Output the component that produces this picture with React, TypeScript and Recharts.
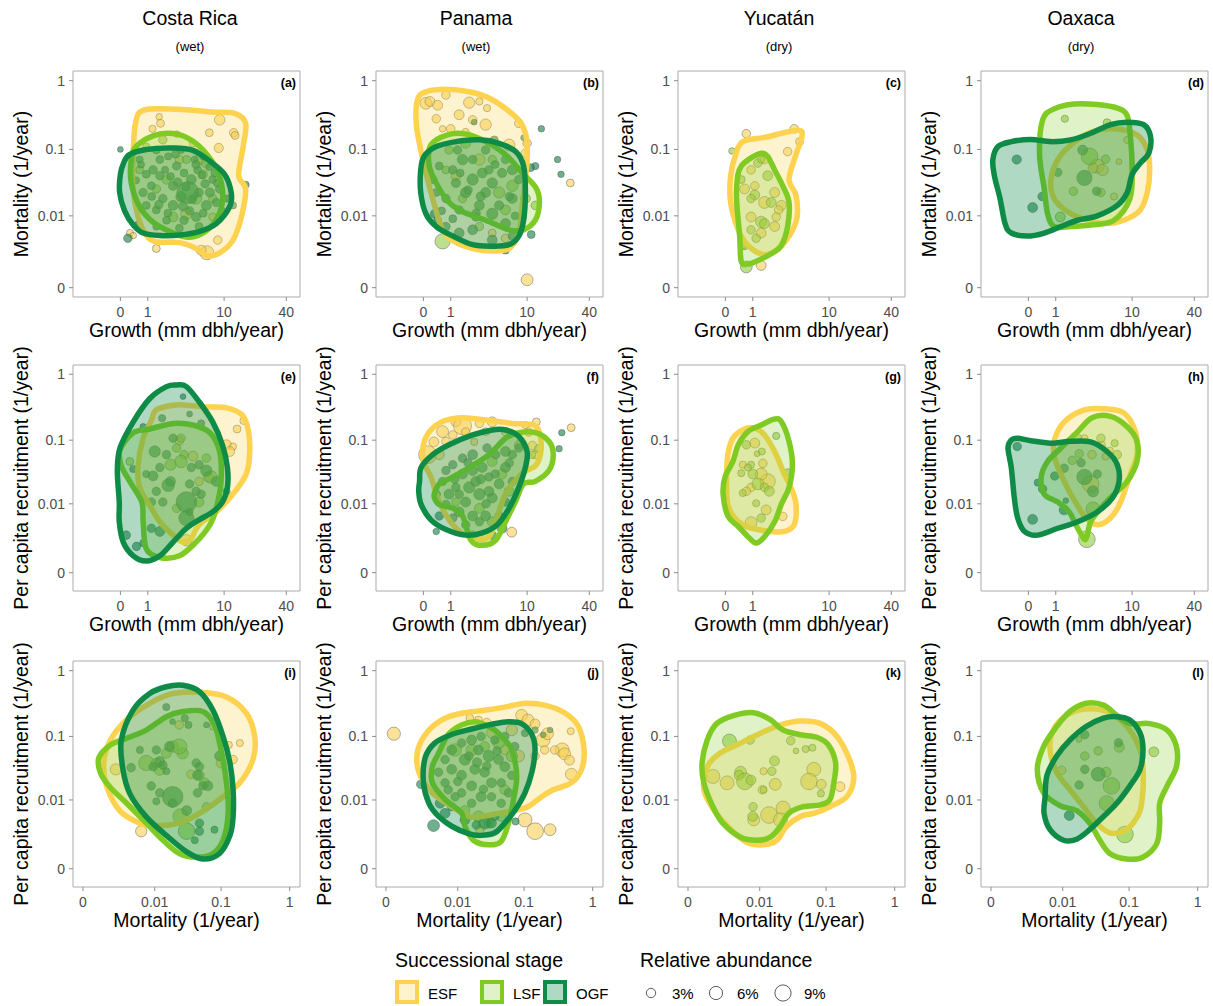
import React from 'react';
import { ScatterChart, Scatter, XAxis, YAxis, ReferenceArea, Label } from 'recharts';

type Stage = 'ESF' | 'LSF' | 'OGF';
type Obs = [number, number, number]; // x value, y value, relative abundance (%)
type Vertex = [number, number];

// ---- categories & tick labels ----
const growthTicks = [0, 1, 10, 40];
const rateTicks = [0, 0.01, 0.1, 1];
const siteNames = ['Costa Rica', 'Panama', 'Yucatán', 'Oaxaca'];
const siteClimate = ['(wet)', '(wet)', '(dry)', '(dry)'];
const stageNames: Stage[] = ['ESF', 'LSF', 'OGF'];
const abundanceLegend = [3, 6, 9];

// ---- (a) Costa Rica: growth (mm/yr) vs mortality (1/yr) ----
const aEsf: Obs[] = [
  [1.62, 0.3, 0.77], [1.7, 0.24, 1.27], [1.24, 0.2, 1.0], [2.9, 0.168, 0.77], [9.0, 0.27, 2.6],
  [12.5, 0.175, 1.56], [12.9, 0.16, 1.27], [8.8, 0.105, 1.9], [7.0, 0.175, 1.27], [4.6, 0.123, 1.0],
  [3.15, 0.071, 1.56], [5.4, 0.071, 2.25], [8.6, 0.0039, 1.56], [6.6, 0.0022, 5.1], [5.7, 0.0025, 2.25],
  [1.45, 0.0027, 1.27], [0.29, 0.0052, 1.0], [0.4, 0.0047, 0.77], [7.6, 0.0096, 1.27], [11.4, 0.0186, 1.27],
  [3.85, 0.0108, 3.1],
];
const aLsf: Obs[] = [
  [1.85, 0.138, 1.56], [0.93, 0.11, 1.0], [6.5, 0.063, 2.25], [6.0, 0.043, 1.56], [5.0, 0.0186, 3.1],
  [1.45, 0.026, 1.56], [0.64, 0.05, 1.27], [2.6, 0.0096, 2.25], [7.6, 0.0186, 1.56], [3.85, 0.071, 1.27],
  [2.1, 0.036, 1.9],
];
const aOgf: Obs[] = [
  [0, 0.1, 0.56], [16.4, 0.03, 1.0], [0.22, 0.0042, 1.56], [0.58, 0.007, 1.56], [0.79, 0.023, 1.56],
  [0.93, 0.043, 1.27], [1.27, 0.05, 1.56], [1.66, 0.071, 1.27], [2.22, 0.079, 1.0], [2.9, 0.057, 1.56],
  [3.6, 0.045, 1.27], [4.4, 0.036, 2.25], [5.2, 0.05, 1.27], [6.3, 0.031, 1.56], [7.6, 0.036, 1.27],
  [9.0, 0.026, 1.56], [8.3, 0.0162, 1.56], [6.5, 0.0146, 2.25], [5.0, 0.0096, 1.9], [3.6, 0.0085, 1.56],
  [2.6, 0.0146, 2.25], [1.85, 0.0186, 1.56], [1.45, 0.0124, 1.27], [2.1, 0.0085, 1.27], [3.3, 0.0198, 2.6],
  [4.0, 0.023, 14], [2.6, 0.029, 1.9], [1.66, 0.041, 1.56], [1.18, 0.029, 1.27], [0.93, 0.0146, 1.27],
  [5.4, 0.023, 1.56], [7.1, 0.023, 1.9], [4.8, 0.071, 1.0], [6.0, 0.079, 1.0], [3.3, 0.098, 1.0],
  [1.45, 0.098, 1.27], [0.64, 0.071, 1.0], [10.6, 0.0186, 1.0], [12.3, 0.0146, 1.0], [1.45, 0.0067, 1.0],
  [3.15, 0.0063, 1.27], [5.4, 0.0067, 1.27], [2.0, 0.05, 1.0], [2.4, 0.04, 1.27], [3.0, 0.033, 1.56],
  [3.8, 0.028, 1.27], [4.5, 0.018, 1.56], [5.8, 0.042, 1.27], [7.0, 0.055, 1.0], [8.0, 0.045, 1.27],
  [1.2, 0.02, 1.27], [1.6, 0.015, 1.56], [2.2, 0.011, 1.27], [4.2, 0.012, 1.56], [6.0, 0.011, 1.27],
  [9.5, 0.012, 1.0], [0.5, 0.035, 1.0], [0.7, 0.06, 1.0], [2.8, 0.085, 1.27], [5.0, 0.06, 1.56],
  [3.5, 0.014, 1.9], [8.5, 0.032, 1.27],
];
const aEsfContour: Vertex[] = [
  [0.81, 0.375], [2.9, 0.385], [7.6, 0.35], [12.8, 0.335], [16.4, 0.24], [15.5, 0.11], [14.0, 0.041],
  [16.4, 0.026], [14.9, 0.0096], [12.3, 0.0039], [9.0, 0.0022], [6.6, 0.0019], [5.0, 0.0027], [3.15, 0.0035],
  [1.45, 0.0036], [0.93, 0.0048], [0.58, 0.0096], [0.38, 0.029], [0.4, 0.087], [0.48, 0.24],
];
const aLsfContour: Vertex[] = [
  [0.5, 0.11], [1.27, 0.158], [2.35, 0.172], [3.85, 0.15], [6.0, 0.098], [8.6, 0.047], [9.7, 0.02],
  [8.6, 0.0096], [6.3, 0.0055], [4.0, 0.0044], [2.35, 0.0055], [1.27, 0.0079], [0.64, 0.014], [0.33, 0.032],
  [0.33, 0.07],
];
const aOgfContour: Vertex[] = [
  [0.27, 0.084], [0.93, 0.1], [2.6, 0.105], [4.6, 0.097], [7.1, 0.067], [10.1, 0.043], [11.8, 0.023],
  [11.4, 0.014], [8.3, 0.0075], [5.4, 0.0055], [3.15, 0.0048], [1.66, 0.0047], [0.79, 0.0052], [0.4, 0.0071],
  [0.12, 0.012], [-0.02, 0.023], [0, 0.043], [0.09, 0.063],
];

// ---- (b) Panama: growth vs mortality ----
const bEsf: Obs[] = [
  [0.07, 0.47, 3.5], [0.19, 0.5, 2.25], [0.45, 0.44, 2.25], [0.78, 0.62, 1.56], [2.08, 0.48, 3.1],
  [2.88, 0.5, 1.0], [3.6, 0.4, 1.0], [0.4, 0.28, 1.56], [1.44, 0.32, 2.25], [2.33, 0.27, 1.56],
  [3.46, 0.23, 3.1], [1.0, 0.2, 1.56], [0.64, 0.2, 0.77], [1.84, 0.18, 1.0], [8.2, 0.24, 1.56],
  [6.45, 0.116, 3.5], [10.0, 0.123, 1.56], [9.6, 0.088, 1.56], [26.5, 0.032, 1.27], [10.0, 0.0003, 3.5],
  [5.9, 0.0042, 1.56], [4.16, 0.0052, 1.27], [1.26, 0.041, 2.25], [2.88, 0.071, 3.1],
];
const bLsf: Obs[] = [
  [0.64, 0.0037, 6.25], [0.92, 0.098, 1.56], [1.84, 0.123, 2.25], [4.16, 0.071, 1.56], [7.0, 0.029, 3.1],
  [9.6, 0.0186, 2.25], [5.9, 0.0124, 2.25], [2.88, 0.0067, 1.56], [1.64, 0.0186, 1.56], [0.78, 0.05, 1.27],
  [5.0, 0.023, 3.1], [12.1, 0.0146, 1.56],
];
const bOgf: Obs[] = [
  [13.9, 0.2, 0.77], [20.0, 0.071, 0.77], [21.6, 0.043, 0.77], [12.1, 0.057, 1.0], [10.8, 0.054, 1.27],
  [11.0, 0.0049, 1.27], [5.9, 0.0025, 1.27], [9.2, 0.148, 0.56], [2.45, 0.25, 0.56], [4.4, 0.138, 1.27],
  [3.46, 0.098, 1.56], [5.9, 0.071, 1.56], [7.0, 0.05, 2.25], [8.2, 0.036, 1.56], [1.64, 0.071, 2.6],
  [1.1, 0.05, 1.56], [0.51, 0.057, 1.27], [0.28, 0.036, 1.56], [0.4, 0.023, 1.27], [0.34, 0.0108, 1.56],
  [0.45, 0.0085, 1.27], [0.78, 0.0067, 1.56], [1.44, 0.0052, 2.25], [2.33, 0.0059, 2.25], [4.16, 0.0039, 2.25],
  [7.0, 0.0046, 1.56], [5.9, 0.0075, 2.25], [4.16, 0.0108, 3.1], [2.88, 0.0146, 2.25], [1.84, 0.023, 2.6],
  [2.33, 0.036, 3.1], [3.14, 0.045, 2.25], [4.16, 0.032, 2.6], [5.4, 0.045, 1.9], [7.0, 0.0186, 2.25],
  [8.9, 0.0096, 1.56], [3.46, 0.023, 2.25], [1.26, 0.032, 1.9], [0.78, 0.0186, 1.56], [1.44, 0.0124, 1.56],
  [2.33, 0.071, 1.56], [1.35, 0.098, 1.56], [5.0, 0.0146, 1.9], [2.58, 0.0096, 1.56], [1.5, 0.045, 1.27],
  [2.0, 0.025, 1.56], [3.0, 0.02, 1.9], [3.8, 0.05, 1.56], [4.5, 0.06, 1.27], [6.5, 0.02, 1.56],
  [7.5, 0.01, 1.27], [2.6, 0.011, 1.56], [1.1, 0.009, 1.27], [0.6, 0.012, 1.27],
];
const bEsfContour: Vertex[] = [
  [-0.15, 0.53], [0.07, 0.69], [0.78, 0.75], [2.08, 0.69], [3.8, 0.56], [6.2, 0.375], [8.5, 0.25],
  [9.8, 0.153], [10.0, 0.079], [9.6, 0.036], [8.9, 0.0146], [8.2, 0.0052], [6.45, 0.0027], [4.16, 0.0024],
  [2.33, 0.0027], [1.17, 0.0037], [0.64, 0.0059], [0.34, 0.0146], [0.12, 0.036], [-0.07, 0.098], [-0.18, 0.24],
];
const bLsfContour: Vertex[] = [
  [0.22, 0.116], [0.85, 0.163], [1.84, 0.168], [3.46, 0.13], [5.9, 0.084], [8.9, 0.045], [12.3, 0.027],
  [13.3, 0.0162], [12.1, 0.0085], [9.2, 0.0059], [6.45, 0.0059], [3.46, 0.0085], [1.64, 0.0116], [0.92, 0.0162],
  [0.45, 0.029], [0.17, 0.057],
];
const bOgfContour: Vertex[] = [
  [-0.07, 0.05], [0.02, 0.079], [0.4, 0.11], [1.26, 0.13], [2.88, 0.138], [5.0, 0.123], [7.6, 0.093],
  [9.2, 0.057], [9.6, 0.023], [9.2, 0.0085], [8.2, 0.0046], [6.45, 0.0032], [4.16, 0.003], [2.33, 0.0032],
  [1.1, 0.0046], [0.4, 0.0067], [0.07, 0.0108], [-0.07, 0.023],
];

// ---- (c) Yucatán: growth vs mortality ----
const cEsf: Obs[] = [
  [0.71, 0.17, 1.56], [4.16, 0.2, 1.56], [4.8, 0.13, 1.27], [3.46, 0.093, 1.56], [1.64, 0.071, 1.56],
  [0.92, 0.05, 1.56], [0.64, 0.026, 2.25], [1.1, 0.029, 1.56], [2.33, 0.023, 2.25], [1.64, 0.0162, 3.5],
  [2.88, 0.0146, 2.25], [0.92, 0.0096, 2.25], [1.44, 0.0052, 2.25], [2.33, 0.0067, 2.25], [2.65, 0.0124, 1.56],
  [1.44, 0.0011, 2.25], [0.57, 0.0032, 1.56], [2.45, 0.0096, 1.56],
];
const cLsf: Obs[] = [
  [0.19, 0.095, 0.77], [0.71, 0.001, 3.5], [0.64, 0.0031, 1.56], [1.1, 0.021, 2.25], [1.44, 0.008, 3.1],
  [1.64, 0.0075, 2.25], [0.92, 0.0186, 1.56], [1.84, 0.041, 2.25], [1.26, 0.063, 1.56], [2.08, 0.0162, 2.25],
  [0.92, 0.0059, 1.56], [1.17, 0.0042, 1.56], [0.51, 0.036, 1.27], [1.44, 0.071, 1.0],
];
const cEsfContour: Vertex[] = [
  [0.57, 0.13], [1.64, 0.15], [4.56, 0.19], [5.1, 0.15], [4.36, 0.084], [3.6, 0.036], [4.36, 0.021],
  [4.5, 0.0096], [3.8, 0.0052], [2.65, 0.0027], [1.64, 0.002], [0.78, 0.0031], [0.4, 0.0059], [0.15, 0.0162],
  [0.15, 0.041], [0.31, 0.084],
];
const cLsfContour: Vertex[] = [
  [0.51, 0.057], [0.92, 0.075], [1.44, 0.088], [1.84, 0.079], [2.33, 0.05], [3.0, 0.029], [3.6, 0.0162],
  [3.46, 0.0067], [2.88, 0.0031], [2.2, 0.0022], [1.44, 0.0016], [0.78, 0.0012], [0.51, 0.0014], [0.45, 0.0046],
  [0.34, 0.0186], [0.38, 0.041],
];

// ---- (d) Oaxaca: growth vs mortality ----
const dEsf: Obs[] = [
  [8.9, 0.138, 1.0], [4.16, 0.057, 5.1], [3.7, 0.053, 2.25], [6.45, 0.02, 1.0], [7.3, 0.066, 0.56], [4.8, 0.05, 3.1],
];
const dLsf: Obs[] = [
  [1.48, 0.28, 1.0], [5.4, 0.245, 1.27], [3.36, 0.079, 7.6], [1.23, 0.0096, 2.25], [2.02, 0.024, 1.56],
  [4.6, 0.023, 1.56], [5.2, 0.072, 1.56],
];
const dOgf: Obs[] = [
  [-0.28, 0.071, 1.9], [0.12, 0.0135, 2.25], [0.43, 0.02, 1.56], [2.88, 0.038, 6.25], [2.73, 0.098, 2.25],
  [1.1, 0.046, 1.56], [4.1, 0.024, 1.56],
];
const dEsfContour: Vertex[] = [
  [3.46, 0.178], [6.45, 0.2], [11.2, 0.163], [14.2, 0.098], [15.0, 0.05], [14.2, 0.023], [12.1, 0.0124],
  [8.2, 0.0085], [5.0, 0.0075], [2.88, 0.0088], [1.64, 0.0116], [0.92, 0.0186], [0.78, 0.036], [1.1, 0.071],
  [1.84, 0.116],
];
const dLsfContour: Vertex[] = [
  [0.34, 0.084], [0.45, 0.27], [0.92, 0.39], [2.08, 0.46], [4.16, 0.45], [7.0, 0.4], [8.9, 0.31],
  [9.6, 0.153], [10.0, 0.05], [9.5, 0.0186], [6.45, 0.0085], [3.46, 0.0071], [1.84, 0.0067], [0.92, 0.0067],
  [0.64, 0.0108], [0.51, 0.026],
];
const dOgfContour: Vertex[] = [
  [-0.68, 0.071], [-0.61, 0.11], [-0.39, 0.13], [0.07, 0.14], [0.78, 0.13], [1.84, 0.138], [3.46, 0.172],
  [5.9, 0.23], [8.9, 0.25], [13.1, 0.23], [15.3, 0.153], [14.7, 0.088], [12.1, 0.063], [10.0, 0.043],
  [8.9, 0.023], [7.0, 0.0146], [4.16, 0.01], [2.33, 0.0085], [1.26, 0.0067], [0.51, 0.0052], [-0.02, 0.0046],
  [-0.39, 0.0052], [-0.5, 0.0075], [-0.58, 0.0186], [-0.66, 0.041],
];

// ---- (e) Costa Rica: growth vs recruitment ----
const eEsf: Obs[] = [
  [13.5, 0.148, 1.27], [10.6, 0.085, 2.25], [12.3, 0.08, 1.0], [11.4, 0.067, 2.25], [15.6, 0.197, 1.0],
  [6.8, 0.027, 2.25], [5.4, 0.023, 1.56], [3.85, 0.0021, 3.1], [3.15, 0.098, 1.56], [4.6, 0.057, 2.25],
];
const eLsf: Obs[] = [
  [3.3, 0.107, 1.56], [2.9, 0.076, 1.56], [3.6, 0.06, 1.56], [3.3, 0.047, 4.0], [2.4, 0.042, 3.1],
  [5.4, 0.0107, 2.25], [6.5, 0.053, 1.56], [2.9, 0.0084, 1.56], [7.3, 0.027, 4.0], [0.28, 0.047, 1.27],
];
const eOgf: Obs[] = [
  [3.5, 0.46, 0.56], [4.2, 0.25, 0.56], [1.8, 0.216, 1.0], [0.79, 0.16, 0.77], [5.7, 0.18, 1.0],
  [1.36, 0.067, 3.1], [2.1, 0.06, 1.56], [1.66, 0.038, 1.56], [0.93, 0.03, 1.0], [1.27, 0.028, 2.25],
  [0.4, 0.036, 1.0], [2.4, 0.023, 2.25], [2.22, 0.02, 4.0], [1.45, 0.016, 1.56], [1.18, 0.0107, 1.56],
  [1.85, 0.0107, 1.56], [3.85, 0.0107, 12.3], [3.85, 0.0057, 6.25], [1.18, 0.0037, 1.56], [1.66, 0.0032, 2.25],
  [0.17, 0.0027, 1.56], [0.52, 0.0015, 1.56], [0.79, 0.0018, 1.0], [4.2, 0.021, 1.56], [5.0, 0.016, 1.56],
  [5.4, 0.042, 1.56], [4.4, 0.038, 1.56], [6.5, 0.034, 3.1], [8.3, 0.023, 2.25], [4.2, 0.0073, 1.0],
  [10.6, 0.016, 1.0], [5.7, 0.0144, 1.56], [2.6, 0.107, 1.56],
];
const eEsfContour: Vertex[] = [
  [1.18, 0.2], [1.45, 0.29], [2.6, 0.34], [3.85, 0.34], [6.5, 0.32], [10.6, 0.31], [15.2, 0.24],
  [17.5, 0.135], [17.9, 0.06], [16.6, 0.03], [12.3, 0.0144], [8.3, 0.0073], [5.4, 0.0043], [4.4, 0.0023],
  [3.5, 0.0019], [2.6, 0.0027], [1.66, 0.0049], [1.18, 0.0084], [0.64, 0.0185], [0.58, 0.041], [0.79, 0.107],
];
const eLsfContour: Vertex[] = [
  [-0.01, 0.071], [0.4, 0.13], [1.1, 0.148], [2.6, 0.18], [4.6, 0.17], [7.1, 0.13], [9.0, 0.067],
  [9.3, 0.023], [8.3, 0.0084], [7.1, 0.0043], [5.0, 0.0019], [3.15, 0.0008], [1.66, 0.0007], [0.93, 0.0013],
  [0.79, 0.0049], [0.73, 0.0107], [0.28, 0.023], [0.02, 0.041],
];
const eOgfContour: Vertex[] = [
  [2.1, 0.65], [2.9, 0.69], [3.85, 0.65], [5.4, 0.385], [7.6, 0.19], [9.6, 0.085], [10.8, 0.038],
  [10.8, 0.0185], [9.6, 0.0107], [7.6, 0.0073], [5.4, 0.0053], [3.85, 0.0037], [2.6, 0.0019], [1.66, 0.0008],
  [0.93, 0.0005], [0.4, 0.0008], [0.08, 0.0019], [-0.03, 0.0049], [-0.03, 0.0107], [-0.08, 0.034],
  [-0.01, 0.076], [0.4, 0.19], [1.1, 0.43],
];

// ---- (f) Panama: growth vs recruitment ----
const fEsf: Obs[] = [
  [0.12, 0.06, 9.0], [0.64, 0.135, 3.5], [1.26, 0.19, 2.25], [1.64, 0.165, 9.0], [2.88, 0.18, 1.56],
  [4.16, 0.19, 2.25], [0.32, 0.094, 2.25], [0.78, 0.096, 1.56], [1.1, 0.12, 1.56], [0.51, 0.06, 2.25],
  [9.6, 0.17, 1.0], [12.4, 0.19, 1.27], [10.4, 0.133, 1.56], [11.3, 0.083, 1.56], [6.9, 0.0031, 2.25],
  [3.46, 0.0025, 1.56], [27, 0.155, 1.27], [1.84, 0.133, 1.56], [2.45, 0.094, 1.0], [3.46, 0.135, 1.27],
  [5.9, 0.135, 1.56], [12.1, 0.06, 1.56],
];
const fLsf: Obs[] = [
  [8.2, 0.085, 1.56], [11.2, 0.06, 1.27], [13.1, 0.074, 1.56], [4.16, 0.047, 2.25], [5.4, 0.03, 2.25],
  [2.88, 0.0084, 2.25], [4.16, 0.0049, 2.25], [2.33, 0.0027, 1.56], [6.45, 0.016, 2.25], [1.26, 0.0107, 1.56],
];
const fOgf: Obs[] = [
  [22, 0.13, 0.77], [20.7, 0.074, 0.77], [0.4, 0.0032, 0.77], [5.4, 0.0037, 2.25], [4.16, 0.0027, 1.56],
  [0.51, 0.0062, 1.56], [0.64, 0.023, 1.56], [0.92, 0.0144, 2.25], [0.78, 0.0097, 1.56], [1.26, 0.0185, 1.56],
  [1.64, 0.03, 2.25], [2.08, 0.0185, 3.1], [1.84, 0.0107, 2.25], [2.58, 0.023, 2.25], [3.14, 0.038, 2.25],
  [3.8, 0.027, 1.56], [2.88, 0.0144, 3.1], [4.16, 0.0125, 2.25], [5.0, 0.021, 2.25], [5.9, 0.038, 2.25],
  [7.0, 0.06, 1.56], [8.2, 0.076, 1.56], [5.9, 0.067, 2.25], [4.56, 0.06, 1.56], [3.6, 0.076, 1.56],
  [2.33, 0.06, 2.25], [1.64, 0.053, 1.56], [1.1, 0.042, 1.56], [0.78, 0.034, 1.56], [0.4, 0.0144, 1.56],
  [1.44, 0.0073, 2.25], [2.33, 0.0062, 2.25], [3.46, 0.0062, 2.25], [2.88, 0.0049, 1.56], [1.84, 0.0043, 1.56],
  [1.1, 0.0057, 1.56], [5.9, 0.0107, 1.56], [7.0, 0.023, 1.56], [5.0, 0.0062, 1.56], [2.33, 0.034, 2.25],
  [1.44, 0.0144, 1.56], [3.8, 0.016, 2.25], [2.0, 0.045, 1.56], [3.0, 0.025, 1.9], [4.5, 0.03, 1.56],
  [1.2, 0.025, 1.56], [6.5, 0.045, 1.56], [3.5, 0.01, 1.56],
];
const fEsfContour: Vertex[] = [
  [0, 0.047], [0, 0.085], [0.19, 0.138], [0.71, 0.197], [1.64, 0.22], [3.8, 0.2], [7.0, 0.18],
  [11.7, 0.17], [13.6, 0.114], [13.6, 0.06], [12.1, 0.04], [8.9, 0.031], [5.9, 0.0144], [4.56, 0.0049],
  [3.6, 0.0023], [2.08, 0.0025], [1.1, 0.0043], [0.51, 0.0107], [0.22, 0.027],
];
const fLsfContour: Vertex[] = [
  [0.34, 0.0144], [0.51, 0.021], [1.1, 0.027], [2.08, 0.038], [3.8, 0.06], [5.9, 0.107], [8.2, 0.13],
  [12.1, 0.13], [16.5, 0.096], [18.2, 0.06], [16.5, 0.034], [12.1, 0.023], [9.2, 0.021], [7.6, 0.0111],
  [5.9, 0.0049], [4.56, 0.0021], [3.14, 0.0016], [2.2, 0.0021], [1.64, 0.0062], [1.1, 0.0084], [0.51, 0.0097],
  [0.34, 0.0124],
];
const fOgfContour: Vertex[] = [
  [-0.1, 0.023], [-0.06, 0.038], [0.28, 0.06], [0.92, 0.085], [2.33, 0.12], [4.16, 0.143], [5.9, 0.143],
  [8.2, 0.114], [10.0, 0.067], [9.6, 0.038], [8.2, 0.0185], [6.45, 0.0084], [4.76, 0.0043], [3.14, 0.003],
  [1.84, 0.0027], [0.78, 0.0035], [0.22, 0.0053], [-0.06, 0.0098], [-0.12, 0.016],
];

// ---- (g) Yucatán: growth vs recruitment ----
const gEsf: Obs[] = [
  [1.1, 0.09, 2.25], [1.54, 0.044, 1.56], [1.84, 0.023, 6.25], [0.92, 0.0185, 1.56], [1.74, 0.0079, 2.25],
  [0.92, 0.0047, 3.5], [3.0, 0.0061, 1.56], [0.57, 0.042, 1.0], [1.44, 0.03, 3.5], [0.71, 0.016, 1.56],
];
const gLsf: Obs[] = [
  [2.45, 0.116, 1.0], [0.71, 0.085, 1.56], [1.48, 0.067, 1.0], [1.22, 0.062, 0.56], [0.92, 0.042, 1.0],
  [0.78, 0.038, 1.0], [0.51, 0.031, 1.0], [1.0, 0.03, 2.25], [1.26, 0.021, 3.5], [0.57, 0.015, 1.0],
  [1.64, 0.0185, 1.56], [1.95, 0.016, 2.25], [3.46, 0.032, 1.0], [1.44, 0.0057, 1.56], [1.17, 0.0102, 1.0],
];
const gEsfContour: Vertex[] = [
  [0.07, 0.06], [0.22, 0.107], [0.64, 0.148], [1.1, 0.152], [1.64, 0.12], [2.33, 0.067], [3.14, 0.03],
  [3.8, 0.0185], [4.36, 0.0099], [4.16, 0.0043], [3.14, 0.0032], [2.08, 0.0032], [1.26, 0.0035], [0.71, 0.004],
  [0.28, 0.0057], [0.07, 0.0097], [0.03, 0.023],
];
const gLsfContour: Vertex[] = [
  [-0.06, 0.0144], [-0.01, 0.027], [0.22, 0.047], [0.4, 0.085], [0.78, 0.135], [1.44, 0.17], [2.33, 0.21],
  [2.88, 0.19], [3.6, 0.096], [3.96, 0.042], [3.6, 0.0185], [2.88, 0.0099], [2.33, 0.0049], [1.64, 0.0025],
  [1.17, 0.0018], [0.78, 0.0025], [0.4, 0.004], [0.07, 0.0062],
];

// ---- (h) Oaxaca: growth vs recruitment ----
const hEsf: Obs[] = [
  [3.46, 0.021, 7.6], [4.7, 0.085, 1.0], [5.8, 0.069, 1.0], [5.2, 0.056, 1.0], [2.88, 0.107, 1.0], [3.6, 0.06, 1.56],
];
const hLsf: Obs[] = [
  [1.95, 0.049, 1.56], [2.45, 0.062, 1.56], [2.33, 0.107, 1.56], [6.55, 0.09, 1.0], [7.0, 0.06, 1.56],
  [3.1, 0.0022, 7.6], [3.7, 0.0082, 5.1], [4.6, 0.107, 1.56],
];
const hOgf: Obs[] = [
  [-0.27, 0.08, 1.56], [0.28, 0.022, 1.0], [0.45, 0.0175, 1.56], [0.12, 0.0054, 2.25], [0.95, 0.028, 1.56],
  [1.44, 0.037, 1.56], [1.44, 0.0079, 2.25], [2.6, 0.045, 1.56], [2.88, 0.027, 6.25], [3.7, 0.016, 3.1],
  [4.16, 0.03, 1.56], [1.54, 0.0113, 0.56],
];
const hEsfContour: Vertex[] = [
  [0.92, 0.096], [1.44, 0.19], [2.88, 0.29], [5.0, 0.3], [8.2, 0.26], [10.8, 0.135], [11.2, 0.06],
  [9.6, 0.03], [7.6, 0.0107], [5.9, 0.0057], [4.16, 0.0043], [2.88, 0.0062], [1.84, 0.0144], [1.26, 0.03],
  [0.95, 0.053],
];
const hLsfContour: Vertex[] = [
  [0.4, 0.027], [0.64, 0.047], [1.26, 0.076], [2.33, 0.135], [3.6, 0.22], [5.9, 0.23], [8.9, 0.16],
  [11.2, 0.096], [11.2, 0.047], [8.9, 0.023], [6.45, 0.0144], [4.56, 0.0084], [3.46, 0.0049], [3.14, 0.0027],
  [2.88, 0.0022], [2.33, 0.0037], [1.74, 0.0073], [1.1, 0.0107], [0.51, 0.0144],
];
const hOgfContour: Vertex[] = [
  [-0.45, 0.076], [-0.39, 0.1], [-0.26, 0.107], [0.07, 0.098], [0.78, 0.09], [1.84, 0.096], [3.46, 0.094],
  [5.4, 0.067], [7.0, 0.042], [7.3, 0.023], [6.2, 0.0125], [4.16, 0.0073], [2.33, 0.0049], [1.1, 0.0037],
  [0.28, 0.0027], [-0.1, 0.0032], [-0.26, 0.0057], [-0.33, 0.0125], [-0.39, 0.038],
];

// ---- (i) Costa Rica: mortality vs recruitment ----
const iEsf: Obs[] = [
  [0.188, 0.079, 1.0], [0.13, 0.074, 1.0], [0.1, 0.039, 2.25], [0.076, 0.142, 1.0], [0.006, 0.0027, 3.1],
  [0.002, 0.031, 3.1], [0.036, 0.026, 1.56], [0.024, 0.15, 1.56], [0.15, 0.044, 1.56],
];
const iLsf: Obs[] = [
  [0.0073, 0.039, 6.25], [0.019, 0.07, 3.1], [0.027, 0.055, 3.1], [0.024, 0.07, 6.25], [0.0152, 0.055, 2.25],
  [0.025, 0.0052, 6.25], [0.031, 0.0027, 7.6], [0.057, 0.019, 2.25], [0.048, 0.025, 2.25], [0.061, 0.0077, 1.56],
  [0.012, 0.031, 3.5], [0.0106, 0.039, 2.25],
];
const iOgf: Obs[] = [
  [0.0152, 0.28, 1.0], [0.019, 0.168, 0.56], [0.029, 0.19, 1.0], [0.061, 0.15, 0.56], [0.033, 0.15, 1.0],
  [0.0106, 0.062, 1.56], [0.017, 0.07, 2.25], [0.012, 0.041, 2.25], [0.0094, 0.034, 1.56], [0.004, 0.033, 1.56],
  [0.0135, 0.036, 1.56], [0.0152, 0.029, 1.0], [0.019, 0.0113, 12.3], [0.012, 0.0131, 1.56], [0.0106, 0.0095, 1.0],
  [0.019, 0.0088, 1.56], [0.043, 0.039, 1.56], [0.048, 0.034, 1.56], [0.045, 0.025, 2.25], [0.054, 0.017, 1.56],
  [0.064, 0.017, 2.25], [0.045, 0.0131, 1.56], [0.031, 0.0066, 2.25], [0.048, 0.0039, 1.56], [0.048, 0.0027, 1.56],
  [0.08, 0.0029, 1.0], [0.041, 0.0017, 1.0], [0.0088, 0.017, 1.56], [0.095, 0.05, 2.25], [0.0057, 0.062, 1.0],
];
const iEsfContour: Vertex[] = [
  [0.001, 0.039], [0.0015, 0.088], [0.0033, 0.18], [0.0083, 0.32], [0.019, 0.45], [0.048, 0.47], [0.12, 0.4],
  [0.235, 0.225], [0.31, 0.1], [0.294, 0.045], [0.188, 0.019], [0.095, 0.0102], [0.048, 0.0059], [0.024, 0.0039],
  [0.0106, 0.0035], [0.0057, 0.0039], [0.0024, 0.0066], [0.0012, 0.017],
];
const iLsfContour: Vertex[] = [
  [0.0007, 0.047], [0.0015, 0.074], [0.0033, 0.094], [0.0073, 0.125], [0.0152, 0.2], [0.027, 0.24], [0.054, 0.24],
  [0.08, 0.15], [0.1, 0.062], [0.12, 0.019], [0.127, 0.0059], [0.107, 0.0017], [0.076, 0.0007], [0.043, 0.0005],
  [0.024, 0.0007], [0.0135, 0.0017], [0.0073, 0.0039], [0.0033, 0.0088], [0.0015, 0.016], [0.0008, 0.027],
];
const iOgfContour: Vertex[] = [
  [0.0026, 0.088], [0.0043, 0.25], [0.0083, 0.45], [0.0152, 0.57], [0.027, 0.6], [0.048, 0.48], [0.076, 0.25],
  [0.107, 0.1], [0.135, 0.039], [0.15, 0.0147], [0.15, 0.0051], [0.135, 0.0022], [0.095, 0.0007], [0.054, 0.0004],
  [0.031, 0.0008], [0.0152, 0.0022], [0.0073, 0.0051], [0.0038, 0.0126], [0.0028, 0.031],
];

// ---- (j) Panama: mortality vs recruitment ----
const jEsf: Obs[] = [
  [0.0003, 0.11, 4.5], [0.0155, 0.19, 1.27], [0.028, 0.163, 1.56], [0.092, 0.21, 3.5], [0.114, 0.178, 3.5],
  [0.145, 0.155, 2.25], [0.19, 0.088, 5.1], [0.22, 0.11, 3.5], [0.36, 0.062, 5.1], [0.39, 0.054, 3.5],
  [0.46, 0.043, 2.25], [0.48, 0.12, 1.0], [0.49, 0.026, 3.5], [0.28, 0.062, 1.56], [0.2, 0.062, 1.56],
  [0.103, 0.0045, 5.1], [0.145, 0.0027, 7.6], [0.24, 0.0029, 3.5], [0.022, 0.0029, 1.56], [0.021, 0.178, 1.27],
  [0.052, 0.062, 2.25], [0.033, 0.112, 2.25], [0.145, 0.05, 1.56], [0.083, 0.05, 3.5], [0.066, 0.125, 3.1],
];
const jLsf: Obs[] = [
  [0.0091, 0.062, 4.0], [0.0165, 0.062, 3.1], [0.066, 0.05, 3.1], [0.026, 0.07, 2.25], [0.052, 0.0147, 2.25],
  [0.046, 0.0052, 2.25], [0.021, 0.0052, 3.1], [0.013, 0.0066, 2.25], [0.03, 0.0039, 2.25], [0.042, 0.079, 3.5],
];
const jOgf: Obs[] = [
  [0.0039, 0.0035, 3.5], [0.0022, 0.018, 1.56], [0.0051, 0.0088, 2.25], [0.0062, 0.0059, 2.25], [0.008, 0.0077, 1.56],
  [0.013, 0.0045, 2.25], [0.0195, 0.0036, 1.56], [0.026, 0.0039, 3.5], [0.033, 0.0039, 2.25], [0.037, 0.0052, 1.56],
  [0.075, 0.0042, 1.0], [0.0091, 0.0113, 1.56], [0.145, 0.125, 0.77], [0.19, 0.106, 0.56], [0.24, 0.125, 0.56],
  [0.0062, 0.044, 1.56], [0.008, 0.062, 2.25], [0.0115, 0.079, 1.56], [0.0165, 0.088, 2.25], [0.021, 0.062, 2.25],
  [0.03, 0.05, 3.1], [0.042, 0.044, 2.25], [0.052, 0.034, 2.25], [0.066, 0.025, 1.56], [0.013, 0.044, 3.1],
  [0.0185, 0.031, 2.25], [0.026, 0.028, 2.25], [0.033, 0.019, 2.25], [0.046, 0.019, 1.56], [0.059, 0.0131, 1.56],
  [0.0115, 0.025, 2.25], [0.008, 0.031, 2.25], [0.0062, 0.019, 1.56], [0.0165, 0.017, 2.25], [0.023, 0.0113, 2.25],
  [0.033, 0.0113, 1.56], [0.046, 0.0088, 1.56], [0.0165, 0.0088, 1.56], [0.0115, 0.0131, 1.56], [0.0048, 0.028, 1.56],
  [0.007, 0.0147, 1.56], [0.023, 0.1, 1.56], [0.052, 0.1, 1.56], [0.073, 0.07, 1.56], [0.037, 0.088, 1.56],
  [0.103, 0.112, 1.0], [0.015, 0.05, 1.56], [0.02, 0.04, 1.9], [0.028, 0.035, 1.56], [0.04, 0.06, 1.56],
  [0.01, 0.02, 1.56], [0.025, 0.015, 1.56],
];
const jEsfContour: Vertex[] = [
  [0.0019, 0.062], [0.0032, 0.125], [0.0062, 0.19], [0.013, 0.23], [0.026, 0.25], [0.052, 0.28], [0.103, 0.32],
  [0.2, 0.3], [0.39, 0.23], [0.62, 0.142], [0.75, 0.062], [0.69, 0.031], [0.49, 0.019], [0.254, 0.0143],
  [0.16, 0.0102], [0.114, 0.0077], [0.073, 0.0066], [0.042, 0.0059], [0.023, 0.0052], [0.0147, 0.0052],
  [0.008, 0.0077], [0.0037, 0.0131], [0.002, 0.028],
];
const jLsfContour: Vertex[] = [
  [0.0037, 0.034], [0.0048, 0.055], [0.007, 0.107], [0.0115, 0.15], [0.0185, 0.168], [0.026, 0.15], [0.037, 0.125],
  [0.052, 0.088], [0.066, 0.062], [0.078, 0.025], [0.07, 0.0102], [0.059, 0.0039], [0.046, 0.0016], [0.03, 0.0013],
  [0.0175, 0.0017], [0.013, 0.0034], [0.0115, 0.006], [0.0062, 0.0102], [0.0037, 0.019],
];
const jOgfContour: Vertex[] = [
  [0.0027, 0.047], [0.0041, 0.079], [0.008, 0.107], [0.0165, 0.13], [0.033, 0.153], [0.059, 0.168], [0.092, 0.157],
  [0.13, 0.107], [0.145, 0.062], [0.13, 0.028], [0.103, 0.0131], [0.073, 0.0066], [0.052, 0.0039], [0.037, 0.0025],
  [0.023, 0.0022], [0.0147, 0.0024], [0.008, 0.0034], [0.0048, 0.0052], [0.0032, 0.0088], [0.0025, 0.019],
];

// ---- (k) Yucatán: mortality vs recruitment ----
const kEsf: Obs[] = [
  [0.0007, 0.025, 1.0], [0.0013, 0.024, 5.1], [0.0027, 0.019, 5.1], [0.0115, 0.029, 1.0], [0.0175, 0.018, 3.5],
  [0.014, 0.0055, 7.6], [0.023, 0.0073, 5.1], [0.021, 0.0045, 5.1], [0.008, 0.0045, 3.5], [0.066, 0.031, 5.1],
  [0.056, 0.02, 7.6], [0.085, 0.018, 2.25], [0.16, 0.0165, 2.25], [0.011, 0.0147, 1.56],
];
const kLsf: Obs[] = [
  [0.003, 0.085, 5.1], [0.007, 0.088, 1.56], [0.0048, 0.028, 3.5], [0.0045, 0.025, 2.25], [0.0057, 0.02, 7.6],
  [0.0072, 0.021, 2.25], [0.0078, 0.0077, 1.56], [0.0077, 0.0052, 2.25], [0.0115, 0.0147, 1.0], [0.0155, 0.029, 1.56],
  [0.017, 0.042, 2.25], [0.03, 0.086, 1.56], [0.05, 0.064, 1.0], [0.063, 0.067, 1.0], [0.084, 0.0128, 1.0],
  [0.036, 0.06, 0.56],
];
const kEsfContour: Vertex[] = [
  [0.0007, 0.0147], [0.0009, 0.034], [0.0019, 0.055], [0.0048, 0.079], [0.0103, 0.112], [0.021, 0.15], [0.042, 0.172],
  [0.083, 0.157], [0.145, 0.1], [0.22, 0.044], [0.254, 0.022], [0.2, 0.0113], [0.114, 0.0077], [0.066, 0.0059],
  [0.042, 0.0052], [0.026, 0.0034], [0.0185, 0.0017], [0.0115, 0.0013], [0.0062, 0.0015], [0.0032, 0.0029],
  [0.0014, 0.0066],
];
const kLsfContour: Vertex[] = [
  [0.0006, 0.039], [0.0009, 0.088], [0.0016, 0.157], [0.0037, 0.21], [0.008, 0.23], [0.0147, 0.18], [0.023, 0.125],
  [0.042, 0.106], [0.073, 0.097], [0.108, 0.074], [0.138, 0.039], [0.13, 0.019], [0.114, 0.0102], [0.083, 0.0083],
  [0.046, 0.0077], [0.028, 0.0059], [0.021, 0.0034], [0.0147, 0.002], [0.0091, 0.0017], [0.0048, 0.002],
  [0.0022, 0.0039], [0.0013, 0.0077], [0.0007, 0.019],
];

// ---- (l) Oaxaca: mortality vs recruitment ----
const lEsf: Obs[] = [[0.0096, 0.03, 1.56]];
const lLsf: Obs[] = [
  [0.018, 0.09, 0.56], [0.022, 0.05, 1.56], [0.035, 0.06, 1.56], [0.046, 0.028, 2.25], [0.072, 0.068, 2.25],
  [0.055, 0.017, 7.6], [0.047, 0.0088, 6.25], [0.087, 0.0023, 7.6], [0.23, 0.058, 2.25],
];
const lOgf: Obs[] = [
  [0.0127, 0.0054, 2.25], [0.018, 0.0175, 1.56], [0.035, 0.026, 5.1], [0.022, 0.031, 1.56], [0.07, 0.08, 1.56],
  [0.022, 0.106, 1.56],
];
const lEsfContour: Vertex[] = [
  [0.0062, 0.062], [0.007, 0.125], [0.0115, 0.21], [0.021, 0.26], [0.042, 0.25], [0.066, 0.2], [0.103, 0.125],
  [0.145, 0.062], [0.16, 0.031], [0.16, 0.0147], [0.145, 0.0066], [0.114, 0.0039], [0.083, 0.0027], [0.052, 0.0025],
  [0.033, 0.0039], [0.021, 0.0077], [0.013, 0.0147], [0.008, 0.028],
];
const lLsfContour: Vertex[] = [
  [0.0037, 0.031], [0.0048, 0.07], [0.008, 0.142], [0.013, 0.24], [0.023, 0.32], [0.042, 0.3], [0.066, 0.21],
  [0.103, 0.157], [0.2, 0.157], [0.36, 0.125], [0.49, 0.07], [0.49, 0.034], [0.36, 0.017], [0.28, 0.0088],
  [0.28, 0.0039], [0.254, 0.0014], [0.16, 0.0005], [0.092, 0.0004], [0.052, 0.0007], [0.037, 0.0017],
  [0.026, 0.0039], [0.0165, 0.0066], [0.0091, 0.008], [0.0048, 0.0131],
];
const lOgfContour: Vertex[] = [
  [0.0051, 0.0113], [0.0055, 0.025], [0.008, 0.05], [0.013, 0.088], [0.023, 0.142], [0.042, 0.19], [0.066, 0.2],
  [0.103, 0.178], [0.145, 0.112], [0.16, 0.062], [0.145, 0.031], [0.103, 0.017], [0.066, 0.0088], [0.042, 0.0052],
  [0.026, 0.0029], [0.0165, 0.0018], [0.0103, 0.0017], [0.0062, 0.0029], [0.0049, 0.0059],
];

// ---- styling ----
const FONT = '"Liberation Sans", Arial, Helvetica, sans-serif';
const stageStroke: Record<Stage, string> = { ESF: '#FDD24E', LSF: '#7FCB24', OGF: '#0F8B48' };
const stageArea: Record<Stage, string> = {
  ESF: 'rgba(253,210,78,0.27)',
  LSF: 'rgba(127,203,36,0.25)',
  OGF: 'rgba(15,139,72,0.33)',
};
const stageDot: Record<Stage, string> = { ESF: '#F6CF55', LSF: '#8FCB42', OGF: '#2A8C55' };
const stageDotOpacity: Record<Stage, number> = { ESF: 0.6, LSF: 0.6, OGF: 0.68 };
const dotRadius = (abundance: number) => 2.7 * Math.sqrt(abundance);

// pseudo-log axis transforms
const growthScale = (g: number) => Math.log10(g + 1.3);
const rateScale = (r: number) => Math.log10(r + 0.001);

interface PanelSpec {
  tag: string;
  row: number;
  col: number;
  points: Partial<Record<Stage, Obs[]>>;
  contours: Partial<Record<Stage, Vertex[]>>;
}

const rowAxes = [
  { x: 'growth', xLabel: 'Growth (mm dbh/year)', yLabel: 'Mortality (1/year)', yDomain: [-3.135, 0.141] },
  { x: 'growth', xLabel: 'Growth (mm dbh/year)', yLabel: 'Per capita recruitment (1/year)', yDomain: [-3.277, 0.141] },
  { x: 'rate', xLabel: 'Mortality (1/year)', yLabel: 'Per capita recruitment (1/year)', yDomain: [-3.277, 0.147] },
];
// plot-area top for each row, and the room left above it inside each chart
const rowPlotTop = [71, 365, 661];
const rowHeadroom = [71, 34, 34];

const panels: PanelSpec[] = [
  { tag: '(a)', row: 0, col: 0, points: { ESF: aEsf, LSF: aLsf, OGF: aOgf }, contours: { ESF: aEsfContour, LSF: aLsfContour, OGF: aOgfContour } },
  { tag: '(b)', row: 0, col: 1, points: { ESF: bEsf, LSF: bLsf, OGF: bOgf }, contours: { ESF: bEsfContour, LSF: bLsfContour, OGF: bOgfContour } },
  { tag: '(c)', row: 0, col: 2, points: { ESF: cEsf, LSF: cLsf }, contours: { ESF: cEsfContour, LSF: cLsfContour } },
  { tag: '(d)', row: 0, col: 3, points: { ESF: dEsf, LSF: dLsf, OGF: dOgf }, contours: { ESF: dEsfContour, LSF: dLsfContour, OGF: dOgfContour } },
  { tag: '(e)', row: 1, col: 0, points: { ESF: eEsf, LSF: eLsf, OGF: eOgf }, contours: { ESF: eEsfContour, LSF: eLsfContour, OGF: eOgfContour } },
  { tag: '(f)', row: 1, col: 1, points: { ESF: fEsf, LSF: fLsf, OGF: fOgf }, contours: { ESF: fEsfContour, LSF: fLsfContour, OGF: fOgfContour } },
  { tag: '(g)', row: 1, col: 2, points: { ESF: gEsf, LSF: gLsf }, contours: { ESF: gEsfContour, LSF: gLsfContour } },
  { tag: '(h)', row: 1, col: 3, points: { ESF: hEsf, LSF: hLsf, OGF: hOgf }, contours: { ESF: hEsfContour, LSF: hLsfContour, OGF: hOgfContour } },
  { tag: '(i)', row: 2, col: 0, points: { ESF: iEsf, LSF: iLsf, OGF: iOgf }, contours: { ESF: iEsfContour, LSF: iLsfContour, OGF: iOgfContour } },
  { tag: '(j)', row: 2, col: 1, points: { ESF: jEsf, LSF: jLsf, OGF: jOgf }, contours: { ESF: jEsfContour, LSF: jLsfContour, OGF: jOgfContour } },
  { tag: '(k)', row: 2, col: 2, points: { ESF: kEsf, LSF: kLsf }, contours: { ESF: kEsfContour, LSF: kLsfContour } },
  { tag: '(l)', row: 2, col: 3, points: { ESF: lEsf, LSF: lLsf, OGF: lOgf }, contours: { ESF: lEsfContour, LSF: lLsfContour, OGF: lOgfContour } },
];

// smooth closed curve (Catmull-Rom) through the projected contour vertices
function closedSpline(pts: { x: number; y: number }[]): string {
  const n = pts ? pts.length : 0;
  if (n < 3) return '';
  let d = `M${pts[0].x},${pts[0].y}`;
  for (let i = 0; i < n; i++) {
    const p0 = pts[(i - 1 + n) % n];
    const p1 = pts[i];
    const p2 = pts[(i + 1) % n];
    const p3 = pts[(i + 2) % n];
    const c1x = p1.x + (p2.x - p0.x) / 6;
    const c1y = p1.y + (p2.y - p0.y) / 6;
    const c2x = p2.x - (p3.x - p1.x) / 6;
    const c2y = p2.y - (p3.y - p1.y) / 6;
    d += `C${c1x},${c1y} ${c2x},${c2y} ${p2.x},${p2.y}`;
  }
  return d + 'Z';
}

const tickLabeler = (vals: number[], pos: number[]) => (v: number) => {
  const i = pos.findIndex((p) => Math.abs(p - v) < 1e-6);
  return i < 0 ? '' : String(vals[i]);
};

function PanelChart({ spec }: { spec: PanelSpec }) {
  const axes = rowAxes[spec.row];
  const isGrowth = axes.x === 'growth';
  const xf = isGrowth ? growthScale : rateScale;
  const xVals = isGrowth ? growthTicks : rateTicks;
  const xPos = xVals.map(xf);
  const yPos = rateTicks.map(rateScale);
  const xDomain = isGrowth ? [-0.315, 1.74] : [-3.145, 0.15];
  const yDomain = axes.yDomain;
  const marginTop = rowHeadroom[spec.row];
  const chartTop = rowPlotTop[spec.row] - marginTop;
  const chartLeft = spec.col * 302.7;
  const tickStyle = { fill: '#4D4D4D', fontSize: 14, fontFamily: FONT };

  return (
    <div style={{ position: 'absolute', left: chartLeft, top: chartTop }}>
      <ScatterChart width={303} height={marginTop + 226 + 55} margin={{ top: marginTop, right: 3, bottom: 0, left: 0 }}>
        <XAxis
          type="number"
          dataKey="x"
          domain={xDomain}
          allowDataOverflow
          ticks={xPos}
          interval={0}
          tickFormatter={tickLabeler(xVals, xPos)}
          tick={tickStyle}
          tickSize={4}
          tickMargin={6}
          axisLine={false}
          tickLine={{ stroke: '#8C8C8C' }}
          height={55}
        >
          <Label
            content={(p: any) => (
              <text x={p.viewBox.x + p.viewBox.width / 2} y={p.viewBox.y + 40} textAnchor="middle" fontSize={19.5} fontFamily={FONT} fill="#000">
                {axes.xLabel}
              </text>
            )}
          />
        </XAxis>
        <YAxis
          type="number"
          dataKey="y"
          domain={yDomain}
          allowDataOverflow
          ticks={yPos}
          interval={0}
          tickFormatter={tickLabeler(rateTicks, yPos)}
          tick={tickStyle}
          tickSize={4}
          tickMargin={4}
          axisLine={false}
          tickLine={{ stroke: '#8C8C8C' }}
          width={73}
        >
          <Label
            content={(p: any) => {
              const cx = p.viewBox.x + 27.5;
              const cy = p.viewBox.y + p.viewBox.height / 2;
              return (
                <text x={cx} y={cy} transform={`rotate(-90, ${cx}, ${cy})`} textAnchor="middle" fontSize={19.5} fontFamily={FONT} fill="#000">
                  {axes.yLabel}
                </text>
              );
            }}
          />
        </YAxis>
        <ReferenceArea
          x1={xDomain[0]}
          x2={xDomain[1]}
          y1={yDomain[0]}
          y2={yDomain[1]}
          fill="none"
          stroke="#ABABAB"
          strokeWidth={1}
          label={(p: any) => (
            <text x={p.viewBox.x + p.viewBox.width - 4} y={p.viewBox.y + 15.5} textAnchor="end" fontSize={12.5} fontWeight="bold" fontFamily={FONT} fill="#000">
              {spec.tag}
            </text>
          )}
        />
        {stageNames.map((s) => {
          const obs = spec.points[s];
          if (!obs) return null;
          return (
            <Scatter
              key={'pts-' + s}
              data={obs.map(([a, b, z]) => ({ x: xf(a), y: rateScale(b), z }))}
              isAnimationActive={false}
              shape={(p: any) => (
                <circle
                  cx={p.cx}
                  cy={p.cy}
                  r={dotRadius(p.payload.z) + 0.9}
                  fill={stageDot[s]}
                  fillOpacity={stageDotOpacity[s]}
                  stroke="#474747"
                  strokeOpacity={0.6}
                  strokeWidth={0.7}
                />
              )}
            />
          );
        })}
        {stageNames.map((s) => {
          const verts = spec.contours[s];
          if (!verts) return null;
          return (
            <Scatter
              key={'area-' + s}
              data={verts.map(([a, b]) => ({ x: xf(a), y: rateScale(b) }))}
              isAnimationActive={false}
              shape={() => <g />}
              lineType="joint"
              line={(lp: any) => (
                <path
                  d={closedSpline(lp.points)}
                  fill={stageArea[s]}
                  stroke={stageStroke[s]}
                  strokeWidth={5.5}
                  strokeLinejoin="round"
                />
              )}
            />
          );
        })}
      </ScatterChart>
    </div>
  );
}

function Titles() {
  const centers = [190, 476, 779, 1081];
  return (
    <svg width={1213} height={60} style={{ position: 'absolute', left: 0, top: 0 }}>
      {siteNames.map((name, i) => (
        <g key={name}>
          <text x={centers[i]} y={25} textAnchor="middle" fontSize={19.5} fontFamily={FONT} fill="#000">
            {name}
          </text>
          <text x={centers[i]} y={51} textAnchor="middle" fontSize={13} fontFamily={FONT} fill="#000">
            {siteClimate[i]}
          </text>
        </g>
      ))}
    </svg>
  );
}

function LegendBlock() {
  const keyX = [397, 482, 545];
  const circleX = [651, 716, 783];
  return (
    <svg width={1213} height={66} style={{ position: 'absolute', left: 0, top: 940 }}>
      <text x={395} y={27} fontSize={19.5} fontFamily={FONT} fill="#000">Successional stage</text>
      {stageNames.map((s, i) => (
        <g key={s}>
          <rect x={keyX[i]} y={42} width={20} height={20} fill={stageArea[s]} stroke={stageStroke[s]} strokeWidth={4} />
          <text x={keyX[i] + 31} y={59} fontSize={15} fontFamily={FONT} fill="#000">{s}</text>
        </g>
      ))}
      <text x={640} y={27} fontSize={19.5} fontFamily={FONT} fill="#000">Relative abundance</text>
      {abundanceLegend.map((a, i) => (
        <g key={a}>
          <circle cx={circleX[i]} cy={53} r={dotRadius(a)} fill="#fff" stroke="#333" strokeWidth={0.8} />
          <text x={circleX[i] + 21} y={59} fontSize={15} fontFamily={FONT} fill="#000">{a + '%'}</text>
        </g>
      ))}
    </svg>
  );
}

export default function App() {
  return (
    <div style={{ position: 'absolute', left: 0, top: 0, width: 1213, height: 1006, background: '#fff', overflow: 'hidden', fontFamily: FONT }}>
      <Titles />
      {panels.map((p) => (
        <PanelChart key={p.tag} spec={p} />
      ))}
      <LegendBlock />
    </div>
  );
}
